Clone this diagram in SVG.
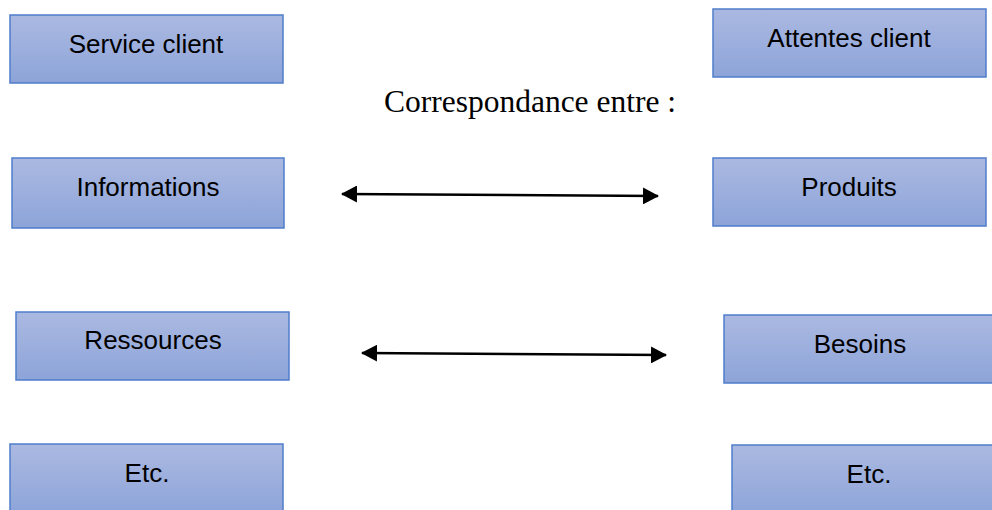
<svg xmlns="http://www.w3.org/2000/svg" width="992" height="510" viewBox="0 0 992 510">
  <defs>
    <linearGradient id="boxFill" x1="0" y1="0" x2="0" y2="1">
      <stop offset="0" stop-color="#abb9e1"/>
      <stop offset="1" stop-color="#8da4d9"/>
    </linearGradient>
    <marker id="head" viewBox="0 0 16 17" refX="15" refY="8.5" markerWidth="16" markerHeight="17" markerUnits="userSpaceOnUse" orient="auto-start-reverse">
      <path d="M0,0 L16,8.5 L0,17 Z" fill="#000"/>
    </marker>
    <style>
      .box { fill: url(#boxFill); stroke: #4f7dcb; stroke-width: 1.5; }
      .lbl { font-family: "Liberation Sans", Arial, sans-serif; font-size: 26px; fill: #000; text-anchor: middle; }
      .title { font-family: "Liberation Serif", "Times New Roman", serif; font-size: 31.5px; fill: #000; text-anchor: middle; }
      .link { stroke: #000; stroke-width: 2.5; fill: none; marker-start: url(#head); marker-end: url(#head); }
    </style>
  </defs>
  <rect width="992" height="510" fill="#fff"/>

  <g id="service-client">
    <rect class="box" x="10" y="15" width="273" height="68"/>
    <text class="lbl" x="146" y="53">Service client</text>
  </g>
  <g id="attentes-client">
    <rect class="box" x="713" y="9" width="273" height="68"/>
    <text class="lbl" x="849" y="47">Attentes client</text>
  </g>

  <text class="title" x="530" y="112">Correspondance entre :</text>

  <g id="informations">
    <rect class="box" x="12" y="158" width="272" height="70"/>
    <text class="lbl" x="148" y="196">Informations</text>
  </g>
  <g id="produits">
    <rect class="box" x="713" y="158" width="273" height="68"/>
    <text class="lbl" x="849" y="196">Produits</text>
  </g>
  <g id="ressources">
    <rect class="box" x="16" y="312" width="273" height="68"/>
    <text class="lbl" x="153" y="349">Ressources</text>
  </g>
  <g id="besoins">
    <rect class="box" x="724" y="315" width="273" height="68"/>
    <text class="lbl" x="860" y="353">Besoins</text>
  </g>
  <g id="etc-left">
    <rect class="box" x="10" y="444" width="273" height="70"/>
    <text class="lbl" x="147" y="482">Etc.</text>
  </g>
  <g id="etc-right">
    <rect class="box" x="732" y="445" width="273" height="70"/>
    <text class="lbl" x="869" y="483">Etc.</text>
  </g>

  <g id="connectors">
    <line class="link" x1="342" y1="194" x2="658" y2="196"/>
    <line class="link" x1="362" y1="353" x2="666" y2="355"/>
  </g>
</svg>
